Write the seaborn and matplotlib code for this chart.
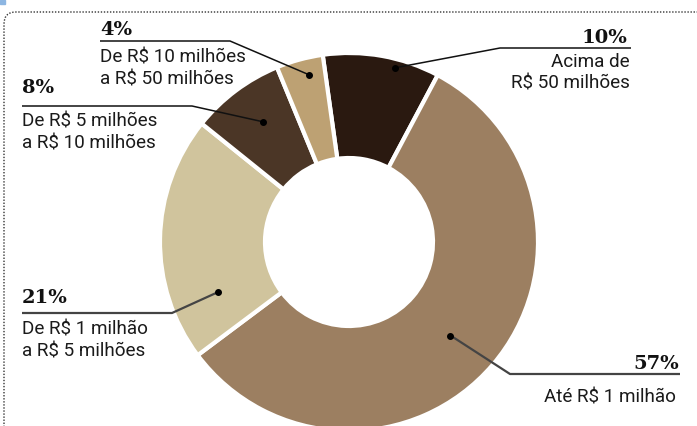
import numpy as np
import matplotlib
matplotlib.use('Agg')
import matplotlib.pyplot as plt
from matplotlib.patches import FancyBboxPatch, Rectangle
import seaborn as sns

# data, in drawing order (clockwise from the top)
labels = ['Acima de\nR$ 50 milhões', 'Até R$ 1 milhão', 'De R$ 1 milhão\na R$ 5 milhões',
          'De R$ 5 milhões\na R$ 10 milhões', 'De R$ 10 milhões\na R$ 50 milhões']
shares = [10, 57, 21, 8, 4]
pct_text = ['10%', '57%', '21%', '8%', '4%']

sns.set_theme(style='white')
plt.rcParams['font.family'] = ['Roboto', 'DejaVu Sans']

W, H = 697, 426
palette = sns.color_palette(['#2a1910', '#9c7f61', '#d0c49d', '#4b3626', '#bda173'])

fig = plt.figure(figsize=(W / 100, H / 100), dpi=100)
ax = fig.add_axes([0, 0, 1, 1])

cx, cy = 349, H - 242
R_OUT, R_IN = 189, 84
wedges, _ = ax.pie(shares, colors=palette, startangle=98, counterclock=False,
                   radius=R_OUT, center=(cx, cy),
                   wedgeprops=dict(width=R_OUT - R_IN, edgecolor='white', linewidth=3))
ax.set_xlim(0, W)
ax.set_ylim(0, H)
ax.set_aspect('equal')
ax.axis('off')

# label layout: (fraction along slice, anchor radius, elbow x, line y, line end x, ha,
#                pct baseline, text x, first text baseline)
layout = [
    (0.63, 180, 500, 48, 631, 'right', 43, 630, 67),
    (0.51, 138, 510, 374, 680, 'right', 369, 676, 402),
    (0.21, 140, 172, 313, 22, 'left', 303, 22, 334),
    (0.54, 148, 192, 106, 22, 'left', 93, 22, 127),
    (0.62, 172, 230, 41, 100, 'left', 35, 100, 63),
]

for i, (w, lay) in enumerate(zip(wedges, layout)):
    frac, r, ex, ly, lx, ha, pb, tx, tb = lay
    ang = np.deg2rad(w.theta2 - frac * (w.theta2 - w.theta1))
    px, py = cx + r * np.cos(ang), cy + r * np.sin(ang)
    lc = '#444444' if i in (1, 2) else '#111111'
    lw = 1.6 if i in (1, 2) else 1.1
    ax.plot([px, ex, lx], [py, H - ly, H - ly], color=lc, lw=lw, solid_capstyle='butt', zorder=4)
    ax.plot(px, py, 'o', color='black', ms=4, zorder=5)
    pct_x = lx - 4 if ha == 'right' and i == 0 else (lx - 1 if ha == 'right' else lx)
    ax.text(pct_x, H - pb, pct_text[i], ha=ha, va='baseline', fontsize=14,
            fontweight='bold', family=['DejaVu Serif'], color='#111111')
    for k, line in enumerate(labels[i].split('\n')):
        ax.text(tx, H - (tb + 22 * k), line, ha=ha, va='baseline', fontsize=13.6,
                color='#1a1a1a')

# dotted frame, open to the right and bottom
frame = FancyBboxPatch((4, -60), 900, H - 12 + 60, boxstyle='round,pad=0,rounding_size=12',
                       fill=False, ec='#333333', lw=1.0, ls=(0, (1, 1.2)), zorder=1)
ax.add_patch(frame)
ax.add_patch(Rectangle((0, H - 4), 5, 4, color='#8db6e2', zorder=2))

fig.savefig('out.png', dpi=100)
